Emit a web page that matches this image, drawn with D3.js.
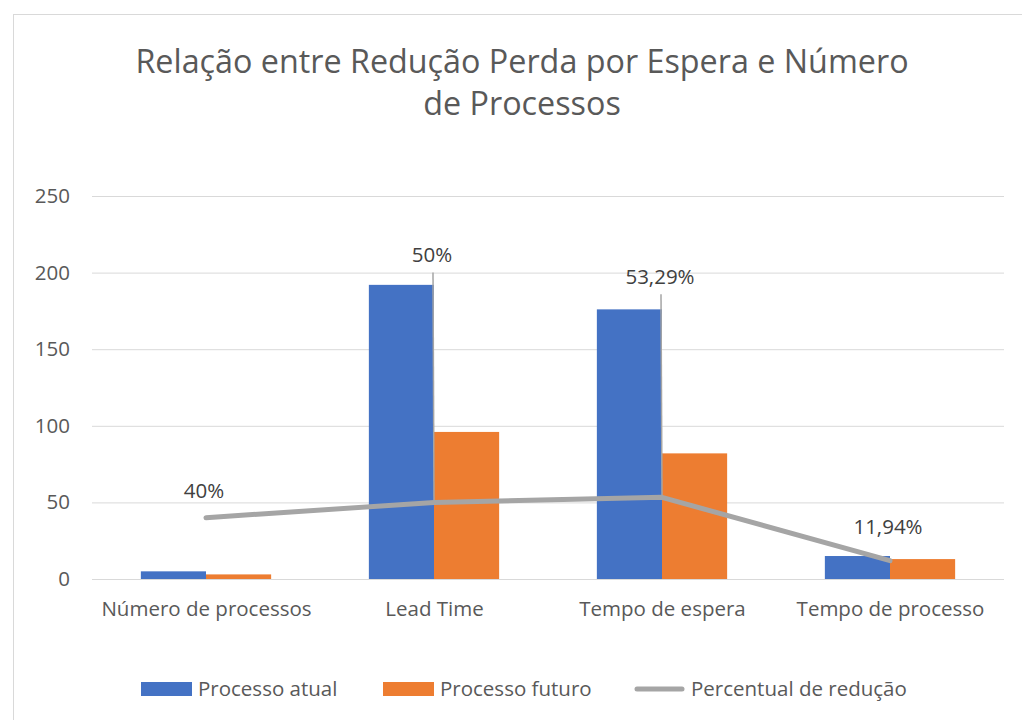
<!DOCTYPE html>
<head>
  <meta charset="utf-8">
  <script src="https://cdn.jsdelivr.net/npm/d3@7"></script>
</head>
<style>
  body { margin: 0; background: #fff; }
  text { font-family: "Open Sans", sans-serif; fill: #595959; }
</style>
<body>
<script>
var categories = ["Número de processos", "Lead Time", "Tempo de espera", "Tempo de processo"];
var atual = [5, 192, 176, 15];
var futuro = [3, 96, 82, 13];
var reducao = [40, 50, 53.29, 11.94];
var reducaoLabels = ["40%", "50%", "53,29%", "11,94%"];
var yTicks = [0, 50, 100, 150, 200, 250];
var seriesNames = ["Processo atual", "Processo futuro", "Percentual de redução"];
var colors = ["#4472C4", "#ED7D31", "#A5A5A5"];

var W = 1022, H = 720;
var plot = {left: 92, right: 1004, top: 196, bottom: 579};
var fontSize = "20.5px";

var svg = d3.select("body").append("svg")
    .attr("width", W)
    .attr("height", H);

// chart border
svg.append("rect")
    .attr("x", 13.5).attr("y", 14.5)
    .attr("width", W).attr("height", H)
    .attr("fill", "none")
    .attr("stroke", "#d9d9d9");

// title
var title = svg.append("text")
    .attr("text-anchor", "middle")
    .style("font-size", "32.3px");
title.append("tspan").attr("x", 522).attr("y", 73).text("Relação entre Redução Perda por Espera e Número");
title.append("tspan").attr("x", 522).attr("y", 115).text("de Processos");

var x = d3.scaleBand()
    .domain(categories)
    .range([plot.left, plot.right])
    .paddingInner(0.4286)
    .paddingOuter(0.2143);

var y = d3.scaleLinear()
    .domain([0, 250])
    .range([plot.bottom, plot.top]);

// gridlines + y labels
svg.append("g")
    .attr("transform", "translate(" + plot.left + ",0)")
    .call(d3.axisLeft(y).tickValues(yTicks).tickSize(-(plot.right - plot.left)).tickPadding(22))
    .call(function(g) {
      g.select(".domain").remove();
      g.selectAll("line").attr("stroke", "#d9d9d9").attr("stroke-width", 1);
      g.selectAll("text").style("font-size", fontSize).attr("fill", "#595959").style("font-family", "'Open Sans', sans-serif");
    });

// x labels
svg.append("g")
    .attr("transform", "translate(0," + plot.bottom + ")")
    .call(d3.axisBottom(d3.scalePoint().domain(categories).range([plot.left, plot.right]).padding(0.5)).tickSize(0).tickPadding(22))
    .call(function(g) {
      g.select(".domain").remove();
      g.selectAll("text").style("font-size", fontSize).attr("fill", "#595959").style("font-family", "'Open Sans', sans-serif");
    });

var xs = d3.scaleBand()
    .domain([0, 1])
    .range([0, x.bandwidth()]);

var groups = svg.selectAll(".cat")
    .data(categories)
  .enter().append("g")
    .attr("class", "cat")
    .attr("transform", function(d) { return "translate(" + x(d) + ",0)"; });

groups.append("rect")
    .attr("x", xs(0))
    .attr("width", xs.bandwidth())
    .attr("y", function(d, i) { return y(atual[i]); })
    .attr("height", function(d, i) { return y(0) - y(atual[i]); })
    .attr("fill", colors[0]);

groups.append("rect")
    .attr("x", xs(1))
    .attr("width", xs.bandwidth())
    .attr("y", function(d, i) { return y(futuro[i]); })
    .attr("height", function(d, i) { return y(0) - y(futuro[i]); })
    .attr("fill", colors[1]);

var cx = function(i) { return x(categories[i]) + x.bandwidth() / 2; };

// leader lines for labels lifted off the point
var labelOffset = [20, 240, 213, 27];
svg.selectAll(".leader")
    .data([1, 2])
  .enter().append("line")
    .attr("x1", function(i) { return cx(i) - 1; })
    .attr("x2", function(i) { return cx(i); })
    .attr("y1", function(i) { return y(reducao[i]) - labelOffset[i] + 10; })
    .attr("y2", function(i) { return y(reducao[i]); })
    .attr("stroke", "#a5a5a5")
    .attr("stroke-width", 1.5);

svg.append("path")
    .datum(reducao)
    .attr("d", d3.line()
      .x(function(d, i) { return cx(i); })
      .y(function(d) { return y(d); }))
    .attr("fill", "none")
    .attr("stroke", colors[2])
    .attr("stroke-width", 5)
    .attr("stroke-linecap", "round")
    .attr("stroke-linejoin", "round");

svg.selectAll(".lbl")
    .data(reducao)
  .enter().append("text")
    .attr("text-anchor", "middle")
    .attr("x", function(d, i) { return cx(i) - 2; })
    .attr("y", function(d, i) { return y(d) - labelOffset[i]; })
    .style("font-size", fontSize)
    .style("fill", "#404040")
    .text(function(d, i) { return reducaoLabels[i]; });

// legend
var legendX = [141, 383, 634];
var legend = svg.selectAll(".legend")
    .data(seriesNames)
  .enter().append("g")
    .attr("transform", function(d, i) { return "translate(" + legendX[i] + ",689)"; });

legend.each(function(d, i) {
  var g = d3.select(this);
  if (i < 2) {
    g.append("rect").attr("x", 0).attr("y", -7).attr("width", 51).attr("height", 14).attr("fill", colors[i]);
  } else {
    g.append("line").attr("x1", 3).attr("x2", 48).attr("y1", 0).attr("y2", 0)
      .attr("stroke", colors[2]).attr("stroke-width", 5).attr("stroke-linecap", "round");
  }
  g.append("text").attr("x", 57).attr("y", 7).style("font-size", fontSize).text(d);
});
</script>
</body>
